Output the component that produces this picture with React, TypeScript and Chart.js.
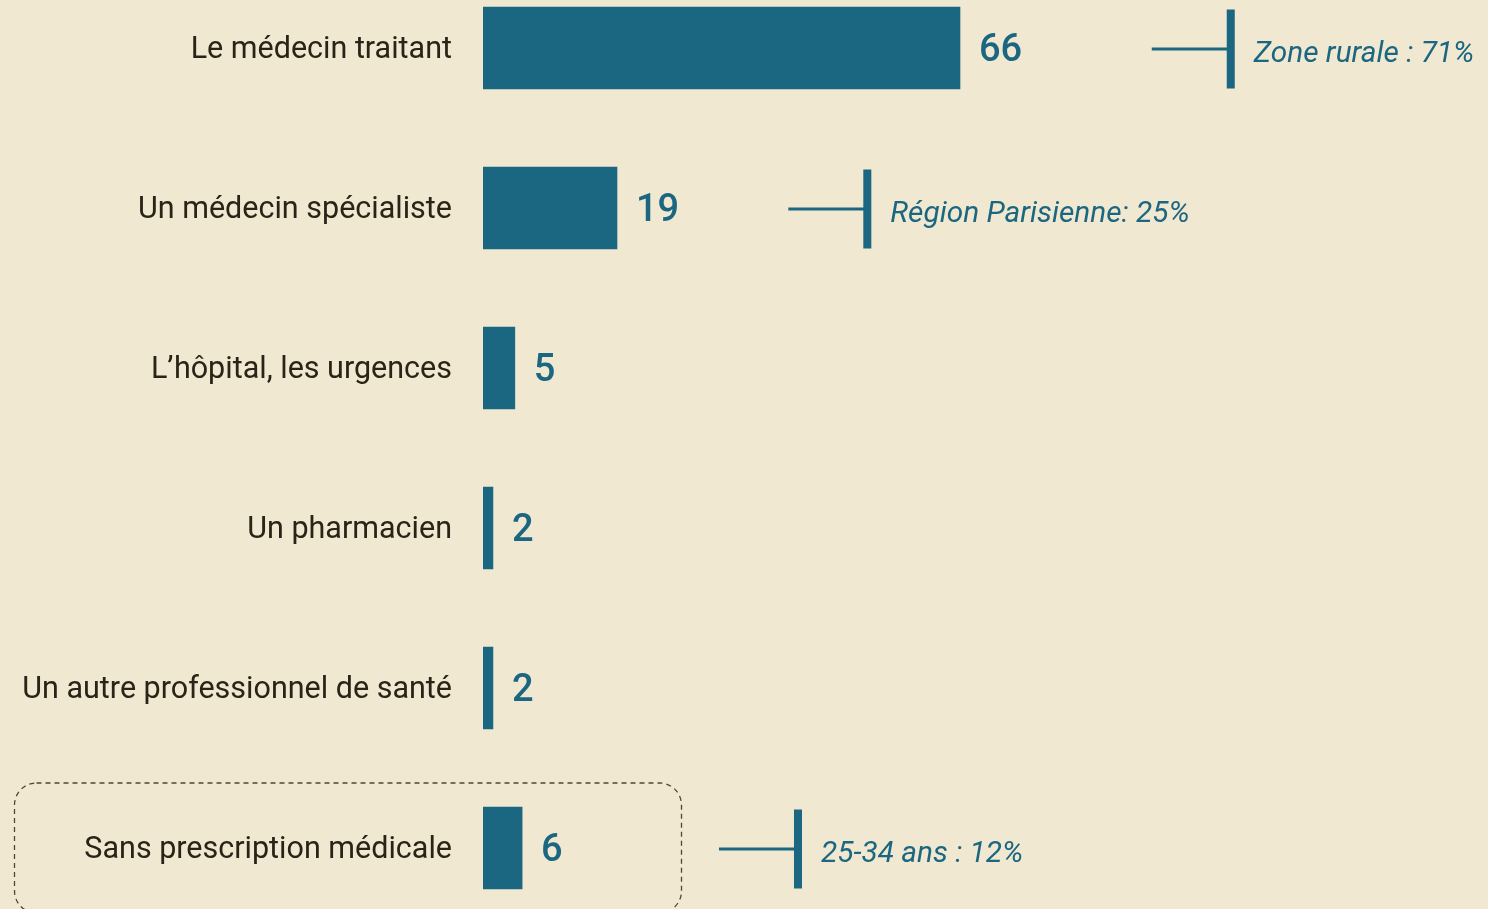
import React, { useEffect, useRef } from "react";
import { Chart, registerables } from "chart.js";

Chart.register(...registerables);

const categories = [
  "Le médecin traitant",
  "Un médecin spécialiste",
  "L’hôpital, les urgences",
  "Un pharmacien",
  "Un autre professionnel de santé",
  "Sans prescription médicale",
];
const values = [66, 19, 5, 2, 2, 6];
const valueLabels = ["66", "19", "5", "2", "2", "6"];
const annotationTexts = ["Zone rurale : 71%", "Région Parisienne: 25%", "", "", "", "25-34 ans : 12%"];
// position of the comparison marker, in x-scale units
const annotationMarkerAt = [103.1, 53.3, 0, 0, 0, 43.8];
const highlightedIndex = 5;

const BG = "#F0E8D0";
const TEAL = "#1B6680";
const TEXT = "#2A2418";
const FONT = "Roboto, 'Liberation Sans', sans-serif";

const overlayPlugin = {
  id: "overlay",
  afterDatasetsDraw(chart: any) {
    const ctx = chart.ctx;
    const x = chart.scales.x;
    const y = chart.scales.y;
    const meta = chart.getDatasetMeta(0);
    ctx.save();
    // value labels
    ctx.fillStyle = TEAL;
    ctx.font = `500 38px ${FONT}`;
    ctx.textAlign = "left";
    ctx.textBaseline = "middle";
    meta.data.forEach((bar: any, i: number) => {
      ctx.fillText(valueLabels[i], bar.x + 19, bar.y + 3);
    });
    // annotations
    annotationTexts.forEach((t, i) => {
      if (!t) return;
      const cy = y.getPixelForValue(i) + 1;
      const tx = x.getPixelForValue(annotationMarkerAt[i]);
      ctx.strokeStyle = TEAL;
      ctx.lineWidth = 3;
      ctx.beginPath();
      ctx.moveTo(tx - 79, cy);
      ctx.lineTo(tx, cy);
      ctx.stroke();
      ctx.fillStyle = TEAL;
      ctx.fillRect(tx - 4, cy - 39.5, 8, 79);
      ctx.font = `italic 29.8px ${FONT}`;
      ctx.textAlign = "left";
      ctx.textBaseline = "alphabetic";
      ctx.fillText(t, tx + 23, cy + 13);
    });
    // dashed highlight box
    const hy = y.getPixelForValue(highlightedIndex);
    ctx.strokeStyle = "#4E4636";
    ctx.lineWidth = 1.3;
    ctx.setLineDash([5, 4]);
    ctx.beginPath();
    (ctx as any).roundRect(14.5, hy - 65, 667, 130, 22);
    ctx.stroke();
    ctx.restore();
  },
};

export default function App() {
  const ref = useRef<HTMLCanvasElement>(null);
  useEffect(() => {
    document.body.style.margin = "0";
    document.body.style.background = BG;
    const chart = new Chart(ref.current!, {
      type: "bar",
      data: {
        labels: categories,
        datasets: [
          {
            data: values,
            backgroundColor: TEAL,
            barThickness: 82,
            borderWidth: 0,
          },
        ],
      },
      options: {
        indexAxis: "y",
        animation: false,
        responsive: false,
        devicePixelRatio: 1,
        layout: { padding: 0 },
        plugins: { legend: { display: false }, tooltip: { enabled: false } },
        scales: {
          x: { display: false, min: 0.64, max: 138.35 },
          y: {
            afterFit(scale: any) {
              scale.width = 483;
              scale.paddingTop = 0;
              scale.paddingBottom = 0;
            },
            grid: { display: false, drawTicks: false },
            border: { display: false },
            ticks: {
              color: TEXT,
              padding: 31,
              labelOffset: 2,
              font: { family: FONT, size: 30.5 },
              crossAlign: "near",
            },
          },
        },
      },
      plugins: [overlayPlugin],
    });
    return () => chart.destroy();
  }, []);
  return (
    <div style={{ position: "fixed", left: 0, top: 0, width: 1488, height: 909, overflow: "hidden", background: BG }}>
      <canvas ref={ref} width={1488} height={960} style={{ position: "absolute", left: 0, top: -32 }} />
    </div>
  );
}
